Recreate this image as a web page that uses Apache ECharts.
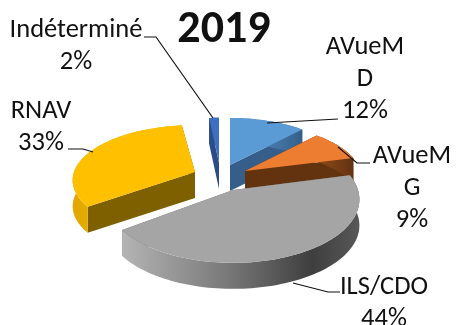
<!DOCTYPE html>
<html><head><meta charset="utf-8">
<style>html,body{margin:0;padding:0;background:#fff}#c{width:457px;height:325px}</style>
<script src="https://cdn.jsdelivr.net/npm/echarts@6/dist/echarts.min.js"></script>
</head><body><div id="c"></div>
<script>
const chartTitle = '2019';
const categories = ['AVueMD', 'AVueMG', 'ILS/CDO', 'RNAV', 'Indéterminé'];
const wrappedNames = ['AVueM\nD', 'AVueM\nG', 'ILS/CDO', 'RNAV', 'Indéterminé'];
const values = [12, 9, 44, 33, 2];

// layout of the exploded 3D disc: per-slice hub, radii
const hubs = [[230,165],[245,171],[233,190],[195,172],[219,163]];
const radiiX = [117,116,125,121,90];
const radiiY = [54,54,62,54,52];
const depth = 26, persp = 0.149;
const topColors = ['#5b9bd5','#ed7d31','#a5a5a5','#ffc000','#3f6fc2'];
const faceColors = ['#355f8a','#63320f','#6e6e6e','#7f6000','#2b4c86'];
const rimStops = [
  [[0,'#5b9bd5'],[1,'#355f8a']],
  [[0,'#8f4b1c'],[1,'#63320f']],
  [[0,'#b4b4b4'],[0.45,'#787878'],[0.8,'#3e3e3e'],[1,'#585858']],
  [[0,'#e0a800'],[1,'#ffc000']],
  [[0,'#2b4c86'],[1,'#2b4c86']]
];
const labelPos = [[365,79],[412,188],[384,303],[41,127],[76,46]];
const leaders = [
  [[338,119],[267,123]],
  [[370,163],[357,163],[338,147]],
  [[340,292],[328,292],[293,283]],
  [[68,149],[83,149],[93,152]],
  [[144,37],[156,37],[213,118]]
];

const total = values.reduce((a,b)=>a+b,0);
const startAngles = values.map((_,i)=>values.slice(0,i).reduce((a,b)=>a+b,0)/total*Math.PI*2);

function project(i, t, dz){
  const u=Math.sin(t), v=Math.cos(t), w=1+persp*v;
  return [hubs[i][0]+radiiX[i]*u/w, hubs[i][1]-radiiY[i]*v/w+(dz||0)];
}
function arc(i,a,b,dz){
  const n=Math.max(4,Math.ceil((b-a)/0.03)), pts=[];
  for(let k=0;k<=n;k++) pts.push(project(i,a+(b-a)*k/n,dz));
  return pts;
}
function poly(points,fill){return {type:'polygon',shape:{points},style:{fill}};}

function renderItem(params, api){
  const i=params.dataIndex;
  const a=startAngles[i], b=a+api.value(0)/total*Math.PI*2;
  const hub=hubs[i], hubLow=[hub[0],hub[1]+depth];
  const pa=project(i,a), pb=project(i,b), pa2=project(i,a,depth), pb2=project(i,b,depth);
  const topArc=arc(i,a,b), lowArc=arc(i,a,b,depth).reverse();
  const rimFill=new echarts.graphic.LinearGradient(0,0,1,0,rimStops[i].map(s=>({offset:s[0],color:s[1]})));
  const children=[
    poly([hub,pa,pa2,hubLow],faceColors[i]),
    poly([hub,pb,pb2,hubLow],faceColors[i]),
    poly(topArc.concat(lowArc),rimFill),
    poly([hub].concat(topArc),topColors[i]),
    {type:'polyline',shape:{points:leaders[i]},style:{stroke:'#111',lineWidth:1.2,fill:null}},
    {type:'text',style:{x:labelPos[i][0],y:labelPos[i][1],text:wrappedNames[i]+'\n'+api.value(0)+'%',
      align:'center',verticalAlign:'middle',fill:'#111',lineHeight:32,
      font:'26.5px Carlito, Lato, sans-serif'}}
  ];
  return {type:'group',children};
}

const chart=echarts.init(document.getElementById('c'),null,{renderer:'canvas'});
chart.setOption({
  animation:false,
  title:{text:chartTitle,left:219,top:2,textAlign:'center',
    textStyle:{fontFamily:'Carlito, Lato, sans-serif',fontWeight:'bold',fontSize:46,color:'#111'}},
  series:[{type:'custom',coordinateSystem:'none',silent:true,clip:false,
    data:values.map((v,i)=>({name:categories[i],value:[v]})),
    encode:{value:0},renderItem}]
});
</script></body></html>
